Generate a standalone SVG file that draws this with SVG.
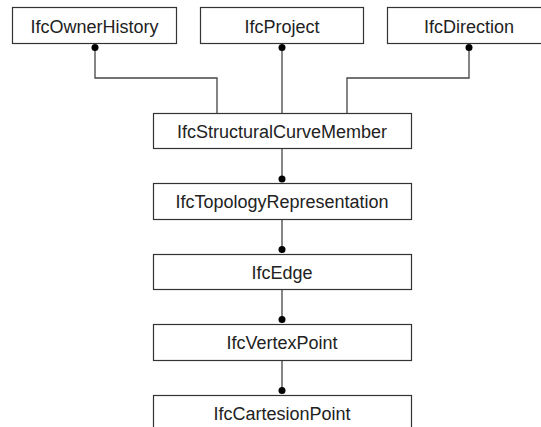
<svg xmlns="http://www.w3.org/2000/svg" width="541" height="427" viewBox="0 0 541 427">
<style>
.box{fill:#fff;stroke:#333;stroke-width:1.2}
.lbl{font-family:"Liberation Sans",Arial,sans-serif;font-size:18px;fill:#222;text-anchor:middle}
.con{fill:none;stroke:#444;stroke-width:1.3}
.dot{fill:#000}
</style>
<rect width="541" height="427" fill="#fff"/>
<g id="connectors">
<path class="con" d="M95,48 V78 H217 V113"/>
<path class="con" d="M282,48 V113"/>
<path class="con" d="M469,48 V78 H347 V113"/>
<path class="con" d="M282,148 V180"/>
<path class="con" d="M282,219 V250"/>
<path class="con" d="M282,289 V320"/>
<path class="con" d="M282,360 V391"/>
<circle class="dot" cx="95" cy="47.5" r="3.5"/>
<circle class="dot" cx="282" cy="47.5" r="3.5"/>
<circle class="dot" cx="469" cy="47.5" r="3.5"/>
<circle class="dot" cx="282" cy="179" r="3.5"/>
<circle class="dot" cx="282" cy="249.5" r="3.5"/>
<circle class="dot" cx="282" cy="319.5" r="3.5"/>
<circle class="dot" cx="282" cy="390.5" r="3.5"/>
</g>
<g id="IfcOwnerHistory"><rect class="box" x="12.5" y="7.5" width="164" height="36"/><text class="lbl" x="94.5" y="32.5">IfcOwnerHistory</text></g>
<g id="IfcProject"><rect class="box" x="200.5" y="7.5" width="163" height="36"/><text class="lbl" x="282" y="32.5">IfcProject</text></g>
<g id="IfcDirection"><rect class="box" x="387.5" y="7.5" width="164" height="36"/><text class="lbl" x="469" y="32.5">IfcDirection</text></g>
<g id="IfcStructuralCurveMember"><rect class="box" x="153.5" y="113.5" width="258" height="35"/><text class="lbl" x="282" y="137.5">IfcStructuralCurveMember</text></g>
<g id="IfcTopologyRepresentation"><rect class="box" x="153.5" y="183.5" width="258" height="36"/><text class="lbl" x="282" y="208">IfcTopologyRepresentation</text></g>
<g id="IfcEdge"><rect class="box" x="153.5" y="254.5" width="258" height="35"/><text class="lbl" x="282" y="278.5">IfcEdge</text></g>
<g id="IfcVertexPoint"><rect class="box" x="153.5" y="324.5" width="258" height="36"/><text class="lbl" x="282" y="349">IfcVertexPoint</text></g>
<g id="IfcCartesionPoint"><rect class="box" x="153.5" y="395.5" width="258" height="40"/><text class="lbl" x="282" y="420">IfcCartesionPoint</text></g>
</svg>
